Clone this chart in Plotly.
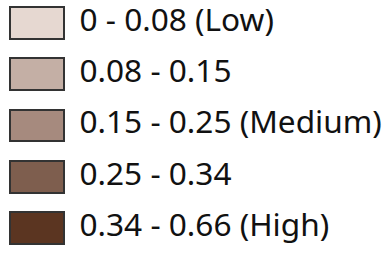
import plotly.graph_objects as go

labels = ["0 - 0.08 (Low)", "0.08 - 0.15", "0.15 - 0.25 (Medium)", "0.25 - 0.34", "0.34 - 0.66 (High)"]
colors = ["#e6d8d1", "#c4afa5", "#a68a7e", "#7e5e4e", "#5b3521"]
rows = list(range(len(labels)))

W, H = 391, 253
SW_X0, SW_W = 9.5, 54.5
TEXT_X = 79.5

fig = go.Figure()
fig.add_trace(go.Bar(
    y=rows, x=[SW_W] * len(rows), base=[SW_X0] * len(rows),
    orientation="h", width=0.62,
    marker=dict(color=colors, line=dict(color="#333333", width=2)),
    hoverinfo="skip", showlegend=False,
))
fig.add_trace(go.Scatter(
    y=rows, x=[TEXT_X] * len(rows), mode="text", text=labels,
    textposition="middle right",
    textfont=dict(family="Noto Sans", size=31.6, color="#111111"),
    hoverinfo="skip", showlegend=False, cliponaxis=False,
))
fig.update_layout(
    width=W, height=H, margin=dict(l=0, r=0, t=0, b=0),
    paper_bgcolor="white", plot_bgcolor="white",
    xaxis=dict(range=[0, W], visible=False, fixedrange=True),
    yaxis=dict(range=[4.488, -0.449], visible=False, fixedrange=True),
    bargap=0,
)
fig.write_html("out.html", config={"displayModeBar": False},
               post_script="document.body.style.margin='0';document.body.style.overflow='hidden';")
